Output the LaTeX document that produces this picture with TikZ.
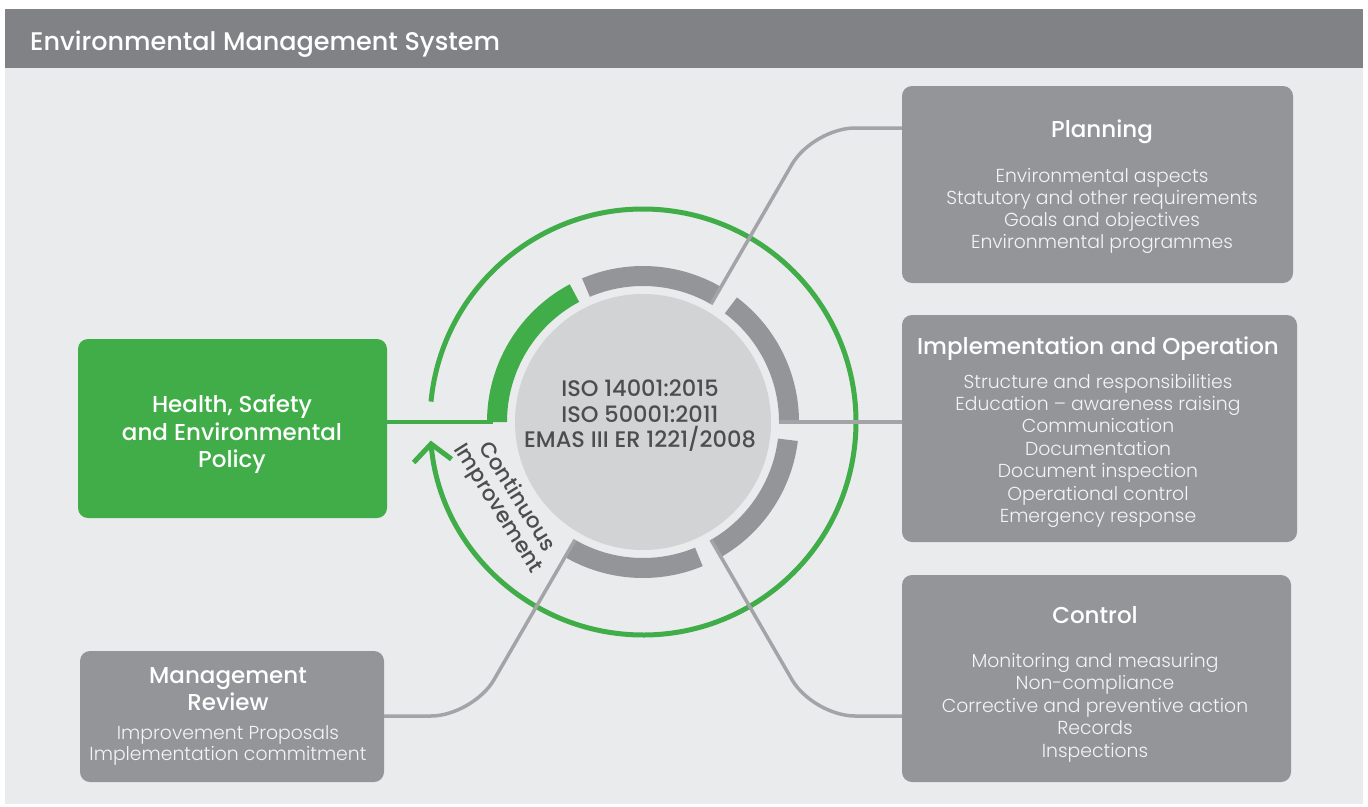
\documentclass[tikz,border=0pt]{standalone}
\usepackage{fontspec}
\setmainfont{Poppins}
\newfontfamily\plight{Poppins Light}
\newfontfamily\pmed{Poppins Medium}
\usetikzlibrary{arrows.meta,calc}
\definecolor{bg}{HTML}{EAEBED}
\definecolor{bar}{HTML}{808285}
\definecolor{boxgray}{HTML}{939598}
\definecolor{ringgray}{HTML}{939598}
\definecolor{linegray}{HTML}{A2A4A7}
\definecolor{egreen}{HTML}{41AD49}
\definecolor{core}{HTML}{D1D3D4}
\definecolor{dark}{HTML}{4D4D4F}
\definecolor{offwhite}{HTML}{F4F4F4}
\tikzset{
  panel/.style={fill=boxgray, rounded corners=10pt, inner sep=0pt},
  greenpanel/.style={fill=egreen, rounded corners=10pt, inner sep=0pt},
  headtxt/.style={anchor=base, text=white, font=\pmed\fontsize{23}{26}\selectfont, inner sep=0pt},
  bodytxt/.style={anchor=base, text=offwhite, font=\plight\fontsize{18.8}{22}\selectfont, inner sep=0pt},
  conn/.style={draw=linegray, line width=3.5pt, rounded corners=42pt},
}
\begin{document}
\begin{tikzpicture}[x=1pt,y=1pt]
\useasboundingbox (0,0) rectangle (1368,-806);
\fill[white] (0,0) rectangle (1368,-806);
\fill[bg] (5,-68) rectangle (1363,-804);
\fill[bar] (5,-9) rectangle (1363,-68);
\node[anchor=base west, text=white, font=\pmed\fontsize{25.5}{28}\selectfont, inner sep=0pt] (title) at (30,-50) {Environmental Management System};

% boxes
\node[panel, minimum width=391pt, minimum height=197pt] (plan) at (1097.5,-184.5) {};
\node[panel, minimum width=395pt, minimum height=227pt] (impl) at (1099.5,-428.5) {};
\node[panel, minimum width=389pt, minimum height=207pt] (ctrl) at (1096.5,-678.5) {};
\node[greenpanel, minimum width=309pt, minimum height=179pt] (hsep) at (232.5,-428.5) {};
\node[panel, minimum width=304pt, minimum height=131pt] (mrev) at (232,-716.5) {};

% box texts
\node[headtxt] (planh) at (1102,-137) {Planning};
\foreach \t [count=\i] in {Environmental aspects, Statutory and other requirements, Goals and objectives, Environmental programmes}
  \node[bodytxt] (plan\i) at (1102,{-182-22.3*(\i-1)}) {\t};
\node[headtxt] (implh) at (1098,-354) {Implementation and Operation};
\foreach \t [count=\i] in {Structure and responsibilities, Education – awareness raising, Communication, Documentation, Document inspection, Operational control, Emergency response}
  \node[bodytxt] (impl\i) at (1098,{-388-22.4*(\i-1)}) {\t};
\node[headtxt] (ctrlh) at (1095,-623) {Control};
\foreach \t [count=\i] in {Monitoring and measuring, Non-compliance, Corrective and preventive action, Records, Inspections}
  \node[bodytxt] (ctrl\i) at (1095,{-667-22.5*(\i-1)}) {\t};
\node[headtxt] (hse1) at (232,-412) {Health, Safety};
\node[headtxt] (hse2) at (232,-440) {and Environmental};
\node[headtxt] (hse3) at (232,-467) {Policy};
\node[headtxt] (mrh1) at (228,-683) {Management};
\node[headtxt] (mrh2) at (228,-710) {Review};
\node[bodytxt] (mr1) at (228,-739) {Improvement Proposals};
\node[bodytxt] (mr2) at (228,-760) {Implementation commitment};

% centre
\coordinate (C) at (643,-422);
\node[circle, fill=core, minimum size=256pt, inner sep=0pt] (core) at (C) {};
\begin{scope}[shift={(C)}]
  \fill[egreen] (118:156) arc[start angle=118, end angle=180, radius=156] -- (180:136) arc[start angle=180, end angle=118, radius=136] -- cycle;
  \fill[ringgray] (60:156) arc[start angle=60, end angle=113, radius=156] -- (113:136) arc[start angle=113, end angle=60, radius=136] -- cycle;
  \fill[ringgray] (0:156) arc[start angle=0, end angle=53, radius=156] -- (53:136) arc[start angle=53, end angle=0, radius=136] -- cycle;
  \fill[ringgray] (-60:156) arc[start angle=-60, end angle=-7, radius=156] -- (-7:136) arc[start angle=-7, end angle=-60, radius=136] -- cycle;
  \fill[ringgray] (240:156) arc[start angle=240, end angle=292.5, radius=156] -- (292.5:136) arc[start angle=292.5, end angle=240, radius=136] -- cycle;
\end{scope}
\node[align=center, text=dark, font=\pmed\fontsize{22.5}{25.5}\selectfont, inner sep=0pt] (iso) at (640,-416) {ISO 14001:2015\\ISO 50001:2011\\EMAS III ER 1221/2008};

% connector anchors
\coordinate (a60) at ($(C)+(60:136)$);
\coordinate (k60) at (813,-128);
\coordinate (a0) at ($(C)+(0:136)$);
\coordinate (am60) at ($(C)+(-60:136)$);
\coordinate (km60) at (813,-716);
\coordinate (a240) at ($(C)+(240:136)$);
\coordinate (k240) at (473,-716);
\coordinate (g180) at ($(C)+(180:150)$);

% green cycle
\draw[egreen, line width=5pt, -{Straight Barb[length=17pt,width=38pt]}] ($(C)+(174.5:213)$) arc[start angle=174.5, end angle=-175, radius=213];

% connectors
\draw[conn] (a60) -- (k60) -- (plan.west |- k60);
\draw[conn] (a0) -- (impl.west |- a0);
\draw[conn] (am60) -- (km60) -- (ctrl.west |- km60);
\draw[conn] (a240) -- (k240) -- (mrev.east |- k240);
\draw[egreen, line width=4pt] (hsep.east |- C) -- (g180);

\node[align=center, text=dark, rotate=-58, font=\pmed\fontsize{21.5}{22}\selectfont, inner sep=0pt] (ci) at (507,-503) {Continuous\\Improvement};
\end{tikzpicture}
\end{document}
